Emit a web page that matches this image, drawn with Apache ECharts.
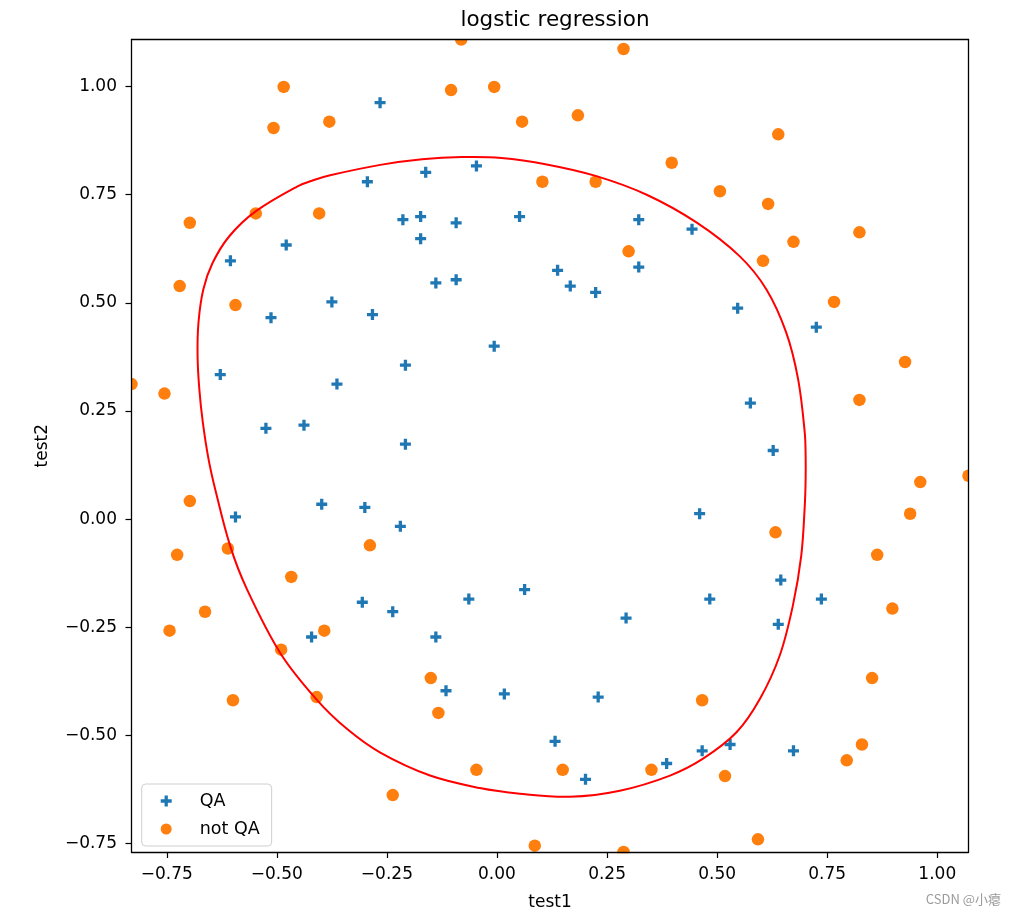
<!DOCTYPE html>
<html><head><meta charset="utf-8">
<script src="https://cdn.jsdelivr.net/npm/echarts@6/dist/echarts.min.js"></script>
<style>html,body{margin:0;padding:0;background:#fff}#c{width:1013px;height:916px}</style>
</head><body><div id="c"></div>
<script>
// ---- data ----
const qaX = [0.051267,-0.092742,-0.21371,-0.375,-0.51325,-0.52477,-0.39804,-0.30588,0.016705,0.13191,0.38537,0.52938,0.63882,0.73675,0.54666,0.322,0.16647,-0.046659,-0.17339,-0.47869,-0.60541,-0.62846,-0.59389,-0.42108,-0.11578,0.20104,0.46601,0.67339,-0.13882,-0.29435,-0.26555,-0.16187,-0.17339,-0.28283,-0.36348,-0.30012,-0.23675,-0.06394,0.062788,0.22984,0.2932,0.48329,0.64459,0.46025,0.6273,0.57546,0.72523,0.22408,0.44297,0.322,0.13767,-0.0063364,-0.092742,-0.20795,-0.20795,-0.43836,-0.21947,-0.13882];
const qaY = [0.69956,0.68494,0.69225,0.50219,0.46564,0.2098,0.034357,-0.19225,-0.40424,-0.51389,-0.56506,-0.5212,-0.24342,-0.18494,0.48757,0.5826,0.53874,0.81652,0.69956,0.63377,0.59722,0.33406,0.005117,-0.27266,-0.39693,-0.60161,-0.53582,-0.53582,0.54605,0.77997,0.96272,0.8019,0.64839,0.47295,0.31213,0.027047,-0.21418,-0.18494,-0.16301,-0.41155,-0.2288,-0.18494,-0.14108,0.012427,0.15863,0.26827,0.44371,0.52412,0.67032,0.69225,0.57529,0.39985,0.55336,0.35599,0.17325,0.21711,-0.016813,-0.27266];
const notQaX = [0.18376,0.22408,0.29896,0.50634,0.61578,0.60426,0.76555,0.92684,0.82316,0.96141,0.93836,0.86348,0.89804,0.85196,0.82892,0.79435,0.59274,0.51786,0.46601,0.35081,0.28744,0.085829,0.14919,-0.13306,-0.40956,-0.39228,-0.74366,-0.69758,-0.75518,-0.69758,-0.4038,-0.38076,-0.50749,-0.54781,0.10311,0.057028,-0.10426,-0.081221,0.28744,0.39689,0.63882,0.82316,0.67339,1.0709,-0.046659,-0.23675,-0.15035,-0.49021,-0.46717,-0.28859,-0.61118,-0.66302,-0.59965,-0.72638,-0.83007,-0.72062,-0.59389,-0.48445,-0.0063364,0.63265];
const notQaY = [0.93348,0.77997,0.61915,0.75804,0.7288,0.59722,0.50219,0.3633,0.27558,0.085526,0.012427,-0.082602,-0.20687,-0.36769,-0.5212,-0.55775,-0.7405,-0.5943,-0.41886,-0.57968,-0.76974,-0.75512,-0.57968,-0.4481,-0.41155,-0.25804,-0.25804,0.041667,0.2902,0.68494,0.70687,0.91886,0.90424,0.70687,0.77997,0.91886,0.99196,1.1089,1.087,0.82383,0.88962,0.66301,0.64108,0.10015,-0.57968,-0.63816,-0.36769,-0.3019,-0.13377,-0.060673,-0.067982,-0.21418,-0.41886,-0.082602,0.31213,0.53874,0.49488,0.99927,0.99927,-0.030612];
// decision boundary (closed loop, drawn as a closed smooth polygon)
const boundaryX = [-0.080,0.010,0.113,0.226,0.340,0.453,0.551,0.612,0.657,0.684,0.699,0.701,0.701,0.699,0.691,0.672,0.642,0.597,0.544,0.468,0.393,0.279,0.166,0.052,-0.039,-0.152,-0.265,-0.341,-0.409,-0.492,-0.568,-0.606,-0.640,-0.655,-0.668,-0.676,-0.680,-0.678,-0.667,-0.646,-0.608,-0.549,-0.454,-0.4175,-0.379,-0.265,-0.170];
const boundaryY = [0.837,0.835,0.820,0.793,0.750,0.686,0.608,0.531,0.431,0.323,0.200,0.146,0.092,0.030,-0.085,-0.200,-0.316,-0.416,-0.493,-0.554,-0.593,-0.628,-0.642,-0.635,-0.622,-0.593,-0.540,-0.485,-0.418,-0.310,-0.162,-0.062,0.069,0.138,0.223,0.300,0.377,0.454,0.531,0.592,0.654,0.711,0.769,0.7835,0.795,0.819,0.832];
const xTicks = [-0.75,-0.5,-0.25,0,0.25,0.5,0.75,1.0];
const yTicks = [-0.75,-0.5,-0.25,0,0.25,0.5,0.75,1.0];
const xRange = [-0.83007, 1.0709];
const yRange = [-0.76974, 1.1089];

// ---- layout ----
const W = 1013, H = 916;
const G = {left:131.5, top:39.5, right:968.5, bottom:853.3};
const FONT = 'DejaVu Sans';
const fmt = v => (v < 0 ? '\u2212' : '') + Math.abs(v).toFixed(2);
const PLUS = 'path://M3.5,0H6.5V3.5H10V6.5H6.5V10H3.5V6.5H0V3.5H3.5Z';
const AX = '#000';

const chart = echarts.init(document.getElementById('c'), null, {renderer:'canvas'});
const baseAxis = {
  type:'value', z:10,
  axisLine:{show:true, onZero:false, lineStyle:{color:AX, width:1.3}},
  splitLine:{show:false}
};
const option = {
  animation:false,
  backgroundColor:'#fff',
  textStyle:{fontFamily:FONT},
  title:{text:'logstic regression', left:(G.left+G.right)/2, textAlign:'center', top:4, z:10,
    textStyle:{fontFamily:FONT, fontSize:21.5, fontWeight:'normal', color:'#000'}},
  grid:{left:G.left, top:G.top, right:W-G.right, bottom:H-G.bottom, show:false},
  legend:{
    orient:'vertical', left:G.left+10.2, top:784, z:11,
    padding:[8,12,8,19], itemGap:10, itemWidth:11, itemHeight:11,
    borderColor:'#cfcfcf', borderWidth:1, borderRadius:4, backgroundColor:'rgba(255,255,255,0.8)',
    textStyle:{fontFamily:FONT, fontSize:17.5, color:'#000', padding:[0,0,0,23]},
    data:[{name:'QA', icon:PLUS}, {name:'not QA', icon:'circle'}]
  },
  xAxis:[
    Object.assign({}, baseAxis, {
      min:xRange[0], max:xRange[1], position:'bottom',
      name:'test1', nameLocation:'middle', nameGap:42,
      nameTextStyle:{fontFamily:FONT, fontSize:17, color:'#000'},
      axisTick:{show:true, length:6, lineStyle:{color:AX, width:1.2}, customValues:xTicks},
      axisLabel:{show:true, margin:14.5, fontFamily:FONT, fontSize:17, color:'#000', customValues:xTicks, formatter:fmt}
    }),
    Object.assign({}, baseAxis, {
      min:xRange[0], max:xRange[1], position:'top',
      axisTick:{show:false}, axisLabel:{show:false}
    })
  ],
  yAxis:[
    Object.assign({}, baseAxis, {
      min:yRange[0], max:yRange[1], position:'left',
      name:'test2', nameLocation:'middle', nameGap:80, nameRotate:90,
      nameTextStyle:{fontFamily:FONT, fontSize:17, color:'#000'},
      axisTick:{show:true, length:6, lineStyle:{color:AX, width:1.2}, customValues:yTicks},
      axisLabel:{show:true, margin:14.5, fontFamily:FONT, fontSize:17, color:'#000', customValues:yTicks, formatter:fmt}
    }),
    Object.assign({}, baseAxis, {
      min:yRange[0], max:yRange[1], position:'right',
      axisTick:{show:false}, axisLabel:{show:false}
    })
  ],
  series:[
    {name:'QA', type:'scatter', symbol:PLUS, symbolSize:11, z:2,
     itemStyle:{color:'#1f77b4', opacity:1},
     data:qaX.map((x,i)=>[x, qaY[i]])},
    {name:'not QA', type:'scatter', symbol:'circle', symbolSize:12.5, z:2,
     itemStyle:{color:'#ff7f0e', opacity:1},
     data:notQaX.map((x,i)=>[x, notQaY[i]])},
    {name:'boundary', type:'custom', z:3, silent:true,
     data:boundaryX.map((x,i)=>[x, boundaryY[i]]),
     encode:{x:0, y:1},
     renderItem:function(params, api){
       if (params.dataIndex !== 0) return null;
       const pts = boundaryX.map((x,i)=>api.coord([x, boundaryY[i]]));
       return {type:'polygon', shape:{points:pts, smooth:0.35},
               style:{fill:'none', stroke:'#ff0000', lineWidth:2}};
     }}
  ],
  graphic:[
    {type:'rect', z:8, silent:true, shape:{x:0, y:0, width:W, height:G.top}, style:{fill:'#fff'}},
    {type:'rect', z:8, silent:true, shape:{x:0, y:G.bottom, width:W, height:H-G.bottom}, style:{fill:'#fff'}},
    {type:'rect', z:8, silent:true, shape:{x:0, y:0, width:G.left, height:H}, style:{fill:'#fff'}},
    {type:'rect', z:8, silent:true, shape:{x:G.right, y:0, width:W-G.right, height:H}, style:{fill:'#fff'}},
    {type:'text', z:12, silent:true, style:{x:1001, y:899, text:'CSDN @小瘪', align:'right', verticalAlign:'middle',
      fill:'#9a9a9a', font:'13px "Noto Sans CJK SC", "DejaVu Sans", sans-serif'}}
  ]
};
chart.setOption(option);
</script>
</body></html>
